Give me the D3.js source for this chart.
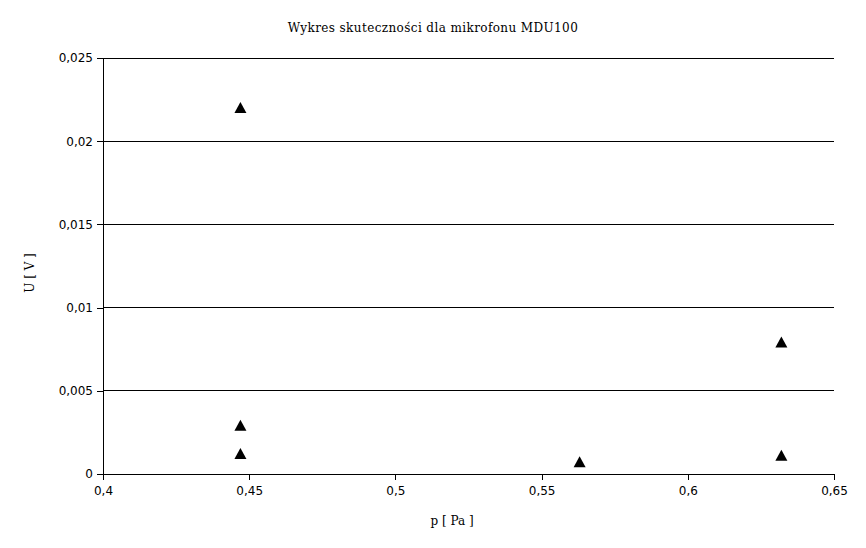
<!DOCTYPE html>
<html><head><meta charset="utf-8">
<script src="https://cdn.jsdelivr.net/npm/d3@7"></script>
<style>body{margin:0;background:#fff}</style>
</head><body><svg id="c" width="866" height="548"></svg>
<script>
const pValues = [0.447, 0.447, 0.447, 0.563, 0.632, 0.632];
const uValues = [0.0220, 0.0029, 0.0012, 0.0007, 0.0079, 0.0011];
const xTicks = [0.4, 0.45, 0.5, 0.55, 0.6, 0.65];
const yTicks = [0, 0.005, 0.01, 0.015, 0.02, 0.025];
const title = "Wykres skuteczności dla mikrofonu MDU100";
const xLabel = "p [ Pa ]";
const yLabel = "U [ V ]";

const svg = d3.select("#c");
const m = {l:103, r:834, t:58, b:474};
const x = d3.scaleLinear().domain([0.4,0.65]).range([m.l,m.r]);
const y = d3.scaleLinear().domain([0,0.025]).range([m.b,m.t]);
const fmt = d => String(d).replace(".", ",");
const sans = "'DejaVu Sans', sans-serif";
const serif = "'DejaVu Serif', serif";

// gridlines
svg.append("g").selectAll("line").data(yTicks.filter(d=>d>0)).join("line")
  .attr("x1",m.l).attr("x2",m.r).attr("y1",d=>y(d)).attr("y2",d=>y(d))
  .attr("stroke","#000").attr("stroke-width",1).attr("shape-rendering","crispEdges");

const ya = svg.append("g").attr("transform",`translate(${m.l},0)`)
  .call(d3.axisLeft(y).tickValues(yTicks).tickFormat(fmt).tickSize(6).tickSizeOuter(0).tickPadding(4));
const xa = svg.append("g").attr("transform",`translate(0,${m.b})`)
  .call(d3.axisBottom(x).tickValues(xTicks).tickFormat(fmt).tickSize(6).tickSizeOuter(0).tickPadding(6));
[ya,xa].forEach(a=>{
  a.selectAll("path,line").attr("stroke","#000").attr("shape-rendering","crispEdges");
  a.selectAll("text").attr("font-family",sans).attr("font-size",12).attr("fill","#000");
});

svg.append("g").selectAll("path").data(pValues.map((p,i)=>[p,uValues[i]])).join("path")
  .attr("transform",d=>`translate(${x(d[0])},${y(d[1])})`)
  .attr("d","M0,-6L6,5L-6,5Z").attr("fill","#000");

svg.append("text").attr("x",433).attr("y",32).attr("text-anchor","middle")
  .attr("font-family",serif).attr("font-size",12).attr("letter-spacing",0.4).text(title);
svg.append("text").attr("x",452).attr("y",525).attr("text-anchor","middle")
  .attr("font-family",serif).attr("font-size",12).text(xLabel);
svg.append("text").attr("transform","translate(34,273) rotate(-90)").attr("text-anchor","middle")
  .attr("font-family",serif).attr("font-size",12).text(yLabel);
</script></body></html>
